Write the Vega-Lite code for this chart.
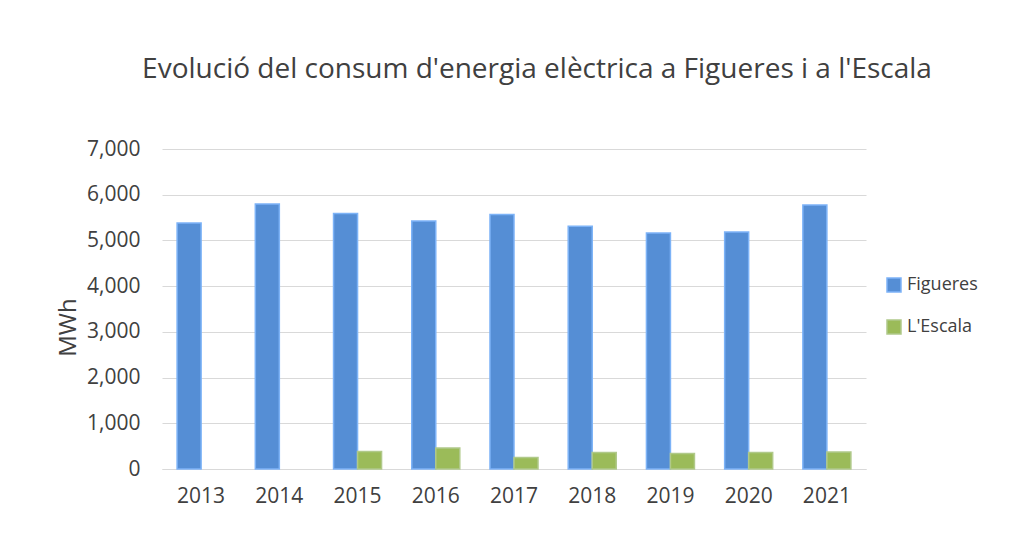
{
  "$schema": "https://vega.github.io/schema/vega-lite/v6.json",
  "autosize": {"type": "none"},
  "width": 704,
  "height": 320,
  "padding": {"left": 162, "top": 149, "right": 146, "bottom": 73},
  "background": "white",
  "title": {
    "text": "Evolució del consum d'energia elèctrica a Figueres i a l'Escala",
    "font": "Open Sans",
    "fontSize": 28,
    "fontWeight": "normal",
    "color": "#404040",
    "anchor": "middle",
    "frame": "group",
    "dx": 23,
    "offset": 54
  },
  "data": {
    "values": [
      {"year": "2013", "series": "Figueres", "value": 5383},
      {"year": "2014", "series": "Figueres", "value": 5799},
      {"year": "2015", "series": "Figueres", "value": 5589},
      {"year": "2016", "series": "Figueres", "value": 5427},
      {"year": "2017", "series": "Figueres", "value": 5567},
      {"year": "2018", "series": "Figueres", "value": 5311},
      {"year": "2019", "series": "Figueres", "value": 5164},
      {"year": "2020", "series": "Figueres", "value": 5186},
      {"year": "2021", "series": "Figueres", "value": 5777},
      {"year": "2015", "series": "L'Escala", "value": 381},
      {"year": "2016", "series": "L'Escala", "value": 460},
      {"year": "2017", "series": "L'Escala", "value": 249},
      {"year": "2018", "series": "L'Escala", "value": 359},
      {"year": "2019", "series": "L'Escala", "value": 337},
      {"year": "2020", "series": "L'Escala", "value": 359},
      {"year": "2021", "series": "L'Escala", "value": 372}
    ]
  },
  "mark": {"type": "bar", "strokeWidth": 1.5},
  "encoding": {
    "x": {
      "field": "year",
      "type": "nominal",
      "scale": {"paddingInner": 0.386, "paddingOuter": 0.193},
      "axis": {
        "title": null,
        "labelAngle": 0,
        "labelFont": "Open Sans",
        "labelFontSize": 21,
        "labelColor": "#404040",
        "labelPadding": 16,
        "ticks": false,
        "domainColor": "#D9D9D9",
        "domainWidth": 1.2,
        "grid": false
      }
    },
    "xOffset": {
      "field": "series",
      "type": "nominal",
      "scale": {"domain": ["Figueres", "L'Escala"], "paddingInner": 0, "paddingOuter": 0}
    },
    "y": {
      "field": "value",
      "type": "quantitative",
      "scale": {"domain": [0, 7000], "nice": false},
      "axis": {
        "title": "MWh",
        "titleFont": "Open Sans",
        "titleFontSize": 24,
        "titleFontWeight": "normal",
        "titleColor": "#404040",
        "titleAngle": -90,
        "titleAlign": "center",
        "titleBaseline": "middle",
        "titleX": -94,
        "titleY": 178,
        "values": [0, 1000, 2000, 3000, 4000, 5000, 6000, 7000],
        "format": ",d",
        "labelFont": "Open Sans",
        "labelFontSize": 21,
        "labelColor": "#404040",
        "labelPadding": 22,
        "ticks": false,
        "domain": false,
        "gridColor": "#D9D9D9",
        "gridWidth": 1.2
      }
    },
    "color": {
      "field": "series",
      "type": "nominal",
      "scale": {"domain": ["Figueres", "L'Escala"], "range": ["#558ED5", "#9BBB59"]},
      "legend": {
        "title": null,
        "orient": "none",
        "legendX": 723,
        "legendY": 127,
        "symbolType": "square",
        "symbolSize": 196,
        "symbolStrokeWidth": 1.5,
        "labelFont": "Open Sans",
        "labelFontSize": 18,
        "labelColor": "#404040",
        "labelOffset": 4,
        "rowPadding": 22
      }
    },
    "stroke": {
      "field": "series",
      "type": "nominal",
      "scale": {"domain": ["Figueres", "L'Escala"], "range": ["#7DB3F7", "#B0C98A"]},
      "legend": null
    }
  },
  "config": {"view": {"stroke": null}}
}
